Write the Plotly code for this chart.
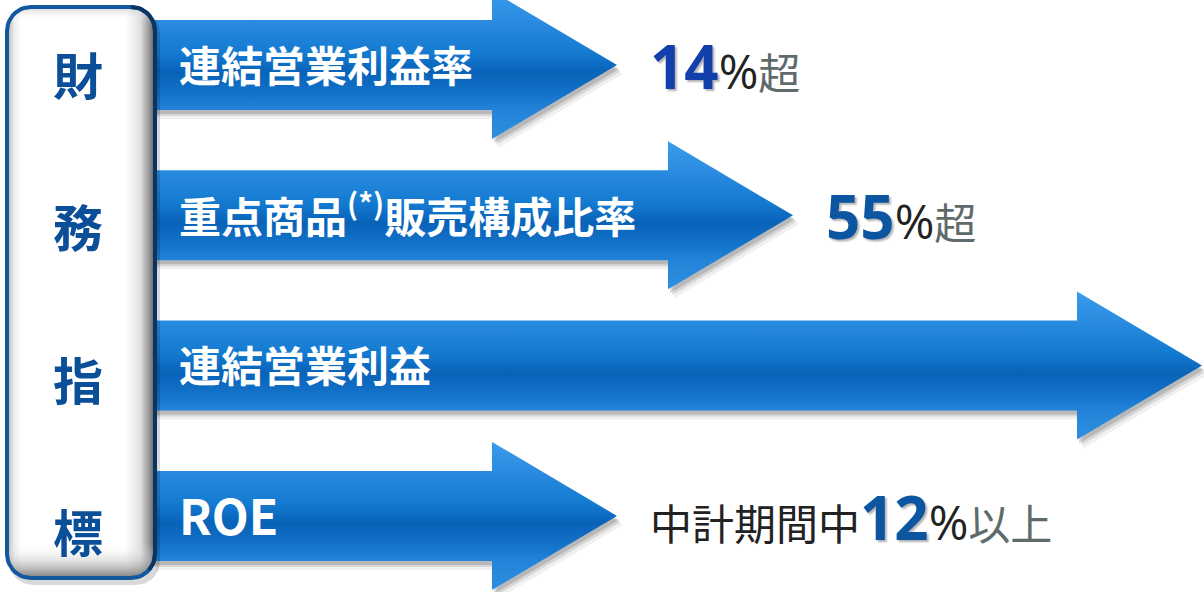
import numpy as np
import plotly.graph_objects as go

# ---------------- data ----------------
side_title = ["財", "務", "指", "標"]
categories = ["連結営業利益率", "重点商品<sup>(*)</sup>販売構成比率", "連結営業利益", "ROE"]
arrow_end = [617, 793, 1202, 617]
target_prefix = ["", "", "", "中計期間中"]
target_value = ["14", "55", "", "12"]
target_suffix = ["%超", "%超", "", "%以上"]
value_colors = ["#1140ad", "#0b55a1", "#0b55a1", "#0b55a1"]

# ---------------- layout helpers ----------------
W, H = 1204, 592
row_y = [65 + 150.3 * i for i in range(len(categories))]
side_y = [74 + 152.3 * i for i in range(len(side_title))]
X0 = 150
SHAFT = 45
HEAD = 74
HEAD_LEN = 125
CJK = "Noto Sans CJK JP"

fig = go.Figure()


def arrow_pts(cy, tip, dx=0, dy=0):
    hb = tip - HEAD_LEN
    xs = [X0, hb, hb, tip, hb, hb, X0, X0]
    ys = [cy - SHAFT, cy - SHAFT, cy - HEAD, cy, cy + HEAD, cy + SHAFT, cy + SHAFT, cy - SHAFT]
    return [x + dx for x in xs], [y + dy for y in ys]


def rrect(x0, y0, x1, y1, r, n=12):
    xs, ys = [], []
    corners = [(x1 - r, y0 + r, -90, 0), (x1 - r, y1 - r, 0, 90),
               (x0 + r, y1 - r, 90, 180), (x0 + r, y0 + r, 180, 270)]
    for cx, cy, a0, a1 in corners:
        for a in np.linspace(np.radians(a0), np.radians(a1), n):
            xs.append(cx + r * np.cos(a))
            ys.append(cy + r * np.sin(a))
    xs.append(xs[0]); ys.append(ys[0])
    return xs, ys


# arrow shadows
for cy, tip in zip(row_y, arrow_end):
    for (dx, dy, a) in [(6, 9, 0.06), (4, 6, 0.10), (2, 4, 0.14)]:
        xs, ys = arrow_pts(cy, tip, dx, dy)
        fig.add_trace(go.Scatter(x=xs, y=ys, mode="lines", fill="toself",
                                 fillcolor=f"rgba(0,0,0,{a})",
                                 line=dict(color="rgba(0,0,0,0)", width=0),
                                 hoverinfo="skip", showlegend=False))

# arrows
for cy, tip in zip(row_y, arrow_end):
    xs, ys = arrow_pts(cy, tip)
    fig.add_trace(go.Scatter(
        x=xs, y=ys, mode="lines", fill="toself",
        fillgradient=dict(type="vertical", start=cy - HEAD, stop=cy + HEAD,
                          colorscale=[[0, "#3a9cec"], [0.2, "#2a8be0"], [0.42, "#137ad0"],
                                      [0.55, "#0862b8"], [0.7, "#1473ca"], [0.8, "#2283d8"],
                                      [1, "#2e8fe2"]]),
        line=dict(color="rgba(0,0,0,0)", width=0),
        hoverinfo="skip", showlegend=False))

# left box shadow
bx, by = rrect(9, 10, 160, 585, 24)
fig.add_trace(go.Scatter(x=bx, y=by, mode="lines", fill="toself",
                         fillcolor="rgba(0,0,0,0.15)",
                         line=dict(color="rgba(0,0,0,0)", width=0),
                         hoverinfo="skip", showlegend=False))

# left box
bx, by = rrect(7, 7, 155, 578, 24)
fig.add_trace(go.Scatter(
    x=bx, y=by, mode="lines", fill="toself",
    fillgradient=dict(type="horizontal", start=7, stop=155,
                      colorscale=[[0, "#b5b5b5"], [0.05, "#eeeeee"], [0.1, "#ffffff"],
                                  [0.8, "#ffffff"], [0.9, "#e0e0e0"], [0.96, "#9a9a9a"],
                                  [1, "#5a5a5a"]]),
    line=dict(color="rgba(0,0,0,0)", width=0),
    hoverinfo="skip", showlegend=False))
fig.add_trace(go.Scatter(
    x=bx, y=by, mode="lines", fill="toself",
    fillgradient=dict(type="vertical", start=7, stop=578,
                      colorscale=[[0, "rgba(190,190,190,0.6)"], [0.025, "rgba(255,255,255,0)"],
                                  [0.94, "rgba(255,255,255,0)"], [0.975, "rgba(170,170,170,0.5)"],
                                  [1, "rgba(90,90,90,0.8)"]]),
    line=dict(color="#12589e", width=4),
    hoverinfo="skip", showlegend=False))
# darker right edge of the border
rx = [x for x, y in zip(bx, by) if x > 120]
ry = [y for x, y in zip(bx, by) if x > 120]
fig.add_trace(go.Scatter(x=rx[:len(rx) // 2 + 6], y=ry[:len(ry) // 2 + 6], mode="lines",
                         line=dict(color="#0a3563", width=4),
                         hoverinfo="skip", showlegend=False))

annotations = []
for ch, y in zip(side_title, side_y):
    annotations.append(dict(x=78, y=y - 1, text=ch, showarrow=False, xanchor="center",
                            yanchor="middle",
                            font=dict(family=CJK, size=50, color="#0b4f98", weight="bold")))

for label, y in zip(categories, row_y):
    txt = label
    if label.isascii():
        txt = f'<span style="font-size:48px">{label}</span>'
    annotations.append(dict(x=177, y=y - 2, text=txt, showarrow=False, xanchor="left",
                            yanchor="middle",
                            font=dict(family=CJK, size=42, color="white", weight="bold")))

for pre, val, suf, col, tip, y in zip(target_prefix, target_value, target_suffix,
                                      value_colors, arrow_end, row_y):
    if not val:
        continue
    pct, rest = suf[0], suf[1:]
    txt = ""
    if pre:
        txt += f'<span style="color:#222222">{pre}</span>'
    txt += (f'<span style="font-family:Open Sans;font-weight:bold;font-size:60px;color:{col};'
            f'text-shadow:2px 2px 2px rgba(0,0,0,0.3)">{val}</span>'
            f'<span style="font-family:Open Sans;font-size:48px;color:#222222">{pct}</span>'
            f'<span style="color:#5f6a6a">{rest}</span>')
    annotations.append(dict(x=tip + 31, y=y + 1, text=txt, showarrow=False, xanchor="left",
                            yanchor="middle",
                            font=dict(family=CJK, size=42, color="#222222")))

fig.update_layout(
    width=W, height=H, margin=dict(l=0, r=0, t=0, b=0),
    paper_bgcolor="white", plot_bgcolor="white",
    xaxis=dict(range=[0, W], visible=False, fixedrange=True),
    yaxis=dict(range=[H, 0], visible=False, fixedrange=True),
    annotations=annotations, showlegend=False,
)
fig.write_html("out.html", config={"displayModeBar": False},
               post_script="document.body.style.margin='0px';document.body.style.overflow='hidden';")
